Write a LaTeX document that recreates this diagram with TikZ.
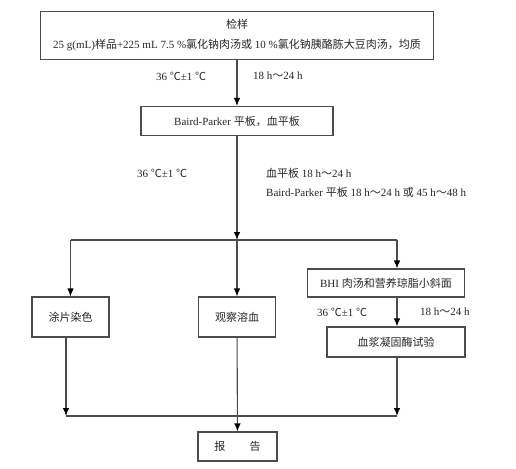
\documentclass[tikz,border=0pt]{standalone}
\usepackage{fontspec}
\setmainfont{Liberation Serif}
\newfontfamily\cjk{Noto Sans CJK SC}
\usetikzlibrary{arrows.meta}

\begin{document}
\begin{tikzpicture}[
    x=1pt, y=-1pt,
    box/.style={
        rectangle,
        draw=black!70,
        line width=1.1pt,
        inner sep=0pt,
        align=center,
        text=black!85,
        font=\fontsize{11}{13}\selectfont
    },
    flow/.style={
        draw=black!70,
        line width=1.1pt,
        -{Latex[length=8pt,width=6.5pt,color=black]}
    },
    link/.style={
        draw=black!70,
        line width=1.1pt
    },
    note/.style={
        anchor=west,
        inner sep=0pt,
        text=black!85,
        font=\fontsize{11}{13}\selectfont
    }
]
\useasboundingbox (0,0) rectangle (516,468);

\node[box, minimum width=393pt, minimum height=48pt] (sample) at (237,35.5)
    {{\cjk 检样}\\[7pt]25 g(mL){\cjk 样品}+225 mL 7.5 \%{\cjk 氯化钠肉汤或} 10 \%{\cjk 氯化钠胰酪胨大豆肉汤，均质}};
\node[box, minimum width=192pt, minimum height=29pt] (plate) at (237,121)
    {Baird-Parker {\cjk 平板，血平板}};
\node[box, minimum width=77pt, minimum height=40pt] (smear) at (70.5,317) {\cjk 涂片染色};
\node[box, minimum width=77pt, minimum height=40pt] (hemo) at (237,317) {\cjk 观察溶血};
\node[box, minimum width=157pt, minimum height=28pt] (bhi) at (386,283) {BHI {\cjk 肉汤和营养琼脂小斜面}};
\node[box, minimum width=138pt, minimum height=30pt] (coag) at (396,342) {\cjk 血浆凝固酶试验};
\node[box, minimum width=79pt, minimum height=29pt] (report) at (237.5,446.5) {\cjk 报\hspace{2.2em}告};

\node[note] (t1) at (156,76) {36 {\cjk ℃}±1 {\cjk ℃}};
\node[note] (h1) at (253,76) {18 h{\cjk ～}24 h};
\node[note] (t2) at (137,173) {36 {\cjk ℃}±1 {\cjk ℃}};
\node[note] (h2) at (266,173) {{\cjk 血平板} 18 h{\cjk ～}24 h};
\node[note] (h3) at (266,192) {Baird-Parker {\cjk 平板} 18 h{\cjk ～}24 h {\cjk 或} 45 h{\cjk ～}48 h};
\node[note] (t3) at (317,312) {36 {\cjk ℃}±1 {\cjk ℃}};
\node[note] (h4) at (420,312) {18 h{\cjk ～}24 h};

\coordinate (split) at (237,240);
\coordinate (splitL) at (70.5,240);
\coordinate (splitR) at (397,240);
\coordinate (joinL) at (66,416);
\coordinate (joinR) at (397,416);

\draw[flow] (sample) -- (plate);
\draw[flow] (plate) -- (split);
\draw[link] (splitL) -- (splitR);
\draw[flow] (splitL) -- (smear);
\draw[flow] (split) -- (hemo);
\draw[flow] (splitR) -- (splitR |- bhi.north);
\draw[flow] (bhi.south -| splitR) -- (splitR |- coag.north);
\draw[flow] (smear.south -| joinL) -- (joinL);
\draw[flow] (coag.south -| joinR) -- (joinR);
\draw[link] (joinL) -- (joinR);
\draw[flow] (hemo) -- (report);

\end{tikzpicture}
\end{document}
